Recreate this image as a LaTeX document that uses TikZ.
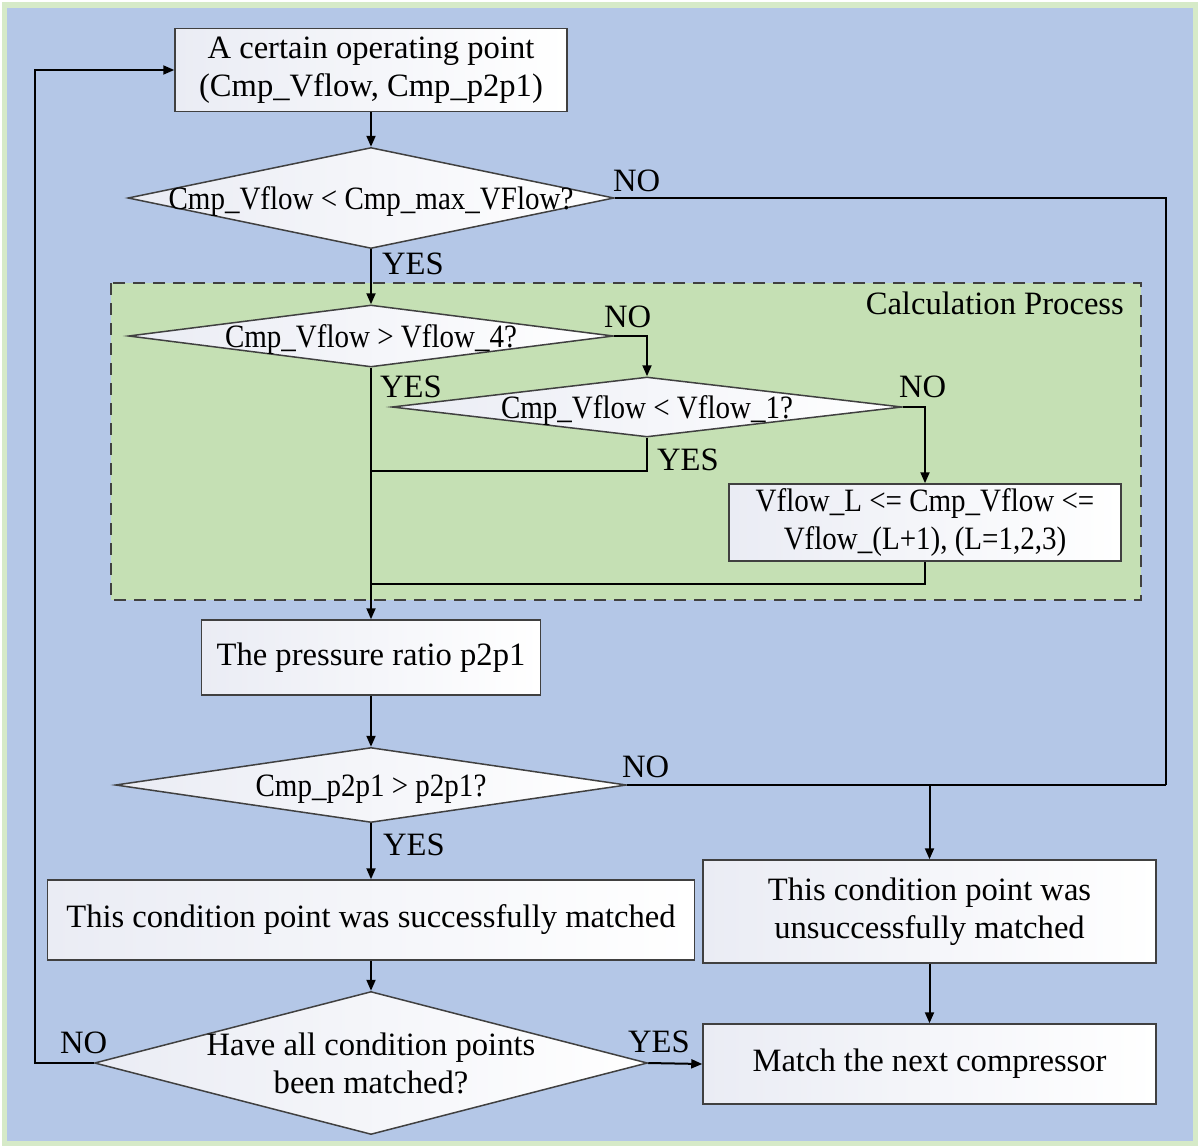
\documentclass[tikz,border=0pt]{standalone}
\usepackage{fontspec}
\usepackage{graphicx}
\setmainfont{Liberation Serif}
\usetikzlibrary{shapes.geometric,arrows.meta,positioning,calc}
\definecolor{bgblue}{RGB}{180,199,231}
\definecolor{bgglow}{RGB}{214,234,200}
\definecolor{calcgreen}{RGB}{197,224,180}
\definecolor{edgegray}{RGB}{64,64,64}
\definecolor{boxshade}{RGB}{234,236,244}
\newcommand{\flowfont}{\fontsize{32.6}{38}\selectfont}
\newcommand{\narrowtext}[1]{\scalebox{0.89}[1]{#1}}
\newcommand{\decisiontext}[1]{\makebox[0pt]{\raisebox{-4pt}[\height][\depth]{\begin{tabular}{@{}c@{}}#1\end{tabular}}}}
\tikzset{
    process/.style={rectangle, draw=edgegray, line width=1.5pt, left color=boxshade, right color=white, inner sep=0pt, align=center, font=\flowfont},
    decision/.style={diamond, draw=edgegray, line width=1.5pt, left color=boxshade, right color=white, inner sep=0pt, aspect=1, font=\flowfont},
    flowline/.style={line width=2pt},
    flowarrow/.style={flowline, -{Triangle[length=11pt,width=9pt]}},
    branch/.style={font=\flowfont, inner sep=0pt, anchor=base west}
}
\begin{document}
\begin{tikzpicture}[x=1pt, y=-1pt]
    \useasboundingbox (0,0) rectangle (1200,1148);
    % background
    \fill[white] (0,0) rectangle (1200,1148);
    \fill[bgglow] (2,2) rectangle (1198,1146);
    \fill[bgblue] (7,8) rectangle (1193,1141);
    \draw[edgegray, line width=1.5pt, dash pattern=on 12pt off 8pt, fill=calcgreen] (111,283) rectangle (1141,600);
    \node[font=\flowfont, inner sep=0pt, anchor=base east] (calc) at (1124,314) {Calculation Process};

    % main column
    \node[process, minimum width=392pt, minimum height=83pt] (start) at (371,70) {A certain operating point\\(Cmp\_Vflow, Cmp\_p2p1)};
    \node[decision, minimum width=486pt, minimum height=101pt] (d1) at (371,198) {\decisiontext{\narrowtext{Cmp\_Vflow < Cmp\_max\_VFlow?}}};
    \node[decision, minimum width=485pt, minimum height=62pt] (d2) at (371,336) {\decisiontext{\narrowtext{Cmp\_Vflow > Vflow\_4?}}};
    \node[decision, minimum width=510pt, minimum height=60pt] (d3) at (647,407) {\decisiontext{\narrowtext{Cmp\_Vflow < Vflow\_1?}}};
    \node[process, minimum width=392pt, minimum height=77pt] (range) at (925,522.5) {\narrowtext{Vflow\_L <= Cmp\_Vflow <=}\\\narrowtext{Vflow\_(L+1), (L=1,2,3)}};
    \node[process, minimum width=339pt, minimum height=75pt] (ratio) at (371,657.5) {The pressure ratio p2p1};
    \node[decision, minimum width=511pt, minimum height=75pt] (d4) at (371,785) {\decisiontext{\narrowtext{Cmp\_p2p1 > p2p1?}}};
    \node[process, minimum width=647pt, minimum height=80pt] (ok) at (371,920) {This condition point was successfully matched};
    \node[decision, minimum width=553pt, minimum height=143pt] (d5) at (371,1063) {\decisiontext{Have all condition points\\been matched?}};
    \node[process, minimum width=453pt, minimum height=103pt] (fail) at (929.5,911.5) {This condition point was\\unsuccessfully matched};
    \node[process, minimum width=453pt, minimum height=80pt] (next) at (929.5,1064) {Match the next compressor};

    % branch labels
    \node[branch] (no1) at (613,191) {NO};
    \node[branch] (yes1) at (382,274) {YES};
    \node[branch] (no2) at (604,327) {NO};
    \node[branch] (yes2) at (380,397) {YES};
    \node[branch] (no3) at (899,397) {NO};
    \node[branch] (yes3) at (657,470) {YES};
    \node[branch] (no4) at (622,777) {NO};
    \node[branch] (yes4) at (383,855) {YES};
    \node[branch] (no5) at (60,1053) {NO};
    \node[branch] (yes5) at (628,1052) {YES};

    % junctions
    \coordinate (rj) at (1166,785);
    \coordinate (j1) at (371,471);
    \coordinate (j2) at (371,584);
    \coordinate (lp) at (35,1063);

    % connectors
    \draw[flowarrow] (start) -- (d1);
    \draw[flowarrow] (d1) -- (d2);
    \draw[flowline] (d1.east) -| (rj);
    \draw[flowline] (d4.east) -- (rj);
    \draw[flowarrow] (d4.east -| fail.north) -- (fail.north);
    \draw[flowarrow] (d2.east) -| (d3.north);
    \draw[flowarrow] (d3.east) -| (range.north);
    \draw[flowline] (d3.south) |- (j1);
    \draw[flowline] (range.south) |- (j2);
    \draw[flowarrow] (d2) -- (ratio);
    \draw[flowarrow] (ratio) -- (d4);
    \draw[flowarrow] (d4) -- (ok);
    \draw[flowarrow] (ok) -- (d5);
    \draw[flowarrow] (d5.west) -- (lp) |- (start.west);
    \draw[flowarrow] (d5.east) -- (next.west);
    \draw[flowarrow] (fail) -- (next);
\end{tikzpicture}
\end{document}
